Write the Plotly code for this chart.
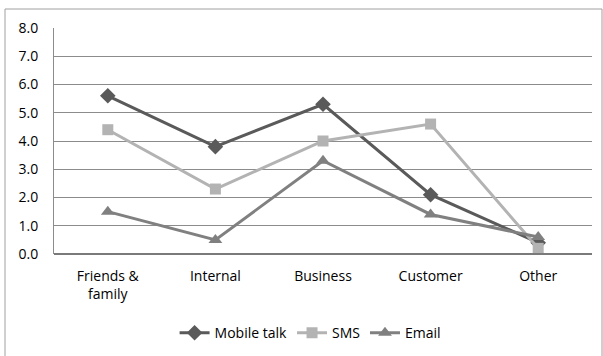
import plotly.graph_objects as go

categories = ["Friends &<br>family", "Internal", "Business", "Customer", "Other"]
mobile_talk = [5.6, 3.8, 5.3, 2.1, 0.4]
sms = [4.4, 2.3, 4.0, 4.6, 0.2]
email = [1.5, 0.5, 3.3, 1.4, 0.6]
y_ticks = [0, 1, 2, 3, 4, 5, 6, 7, 8]

FONT = "Open Sans, Liberation Sans, sans-serif"

fig = go.Figure()
series = [
    ("Mobile talk", mobile_talk, "#5a5a5a", "diamond", 12),
    ("SMS", sms, "#b3b3b3", "square", 11),
    ("Email", email, "#808080", "triangle-up", 12),
]
for name, vals, color, symbol, size in series:
    fig.add_trace(go.Scatter(
        x=categories, y=vals, name=name, mode="lines+markers",
        line=dict(color=color, width=3),
        marker=dict(symbol=symbol, size=size, color=color),
    ))

fig.update_layout(
    width=603, height=356,
    margin=dict(l=54, r=11, t=28, b=102, autoexpand=False),
    paper_bgcolor="white", plot_bgcolor="white",
    font=dict(family=FONT, size=14, color="#000000"),
    showlegend=True,
    legend=dict(orientation="h", x=0.476, xanchor="center", y=-0.35, yanchor="middle",
                font=dict(size=14), tracegroupgap=0),
    xaxis=dict(showgrid=False, showline=False, ticks="", range=[-0.5, 4.5],
               ticklabelstandoff=12, tickfont=dict(size=14)),
    yaxis=dict(range=[0, 8], tickvals=y_ticks, tickformat=".1f",
               showgrid=True, gridcolor="#8c8c8c", gridwidth=1,
               showline=True, linecolor="#8c8c8c", linewidth=1,
               zeroline=False, ticks="", ticklabelstandoff=12, tickfont=dict(size=14)),
    shapes=[
        dict(type="rect", xref="paper", yref="paper",
             x0=(5 - 54) / 538, x1=(602 - 54) / 538,
             y0=(254 - 380) / 226, y1=(254 - 9) / 226,
             line=dict(color="#a0a0a0", width=1), layer="below"),
        dict(type="line", xref="paper", yref="paper", x0=0, x1=1, y0=0, y1=0,
             line=dict(color="#7a7a7a", width=2)),
    ],
)

fig.write_html("out.html")
